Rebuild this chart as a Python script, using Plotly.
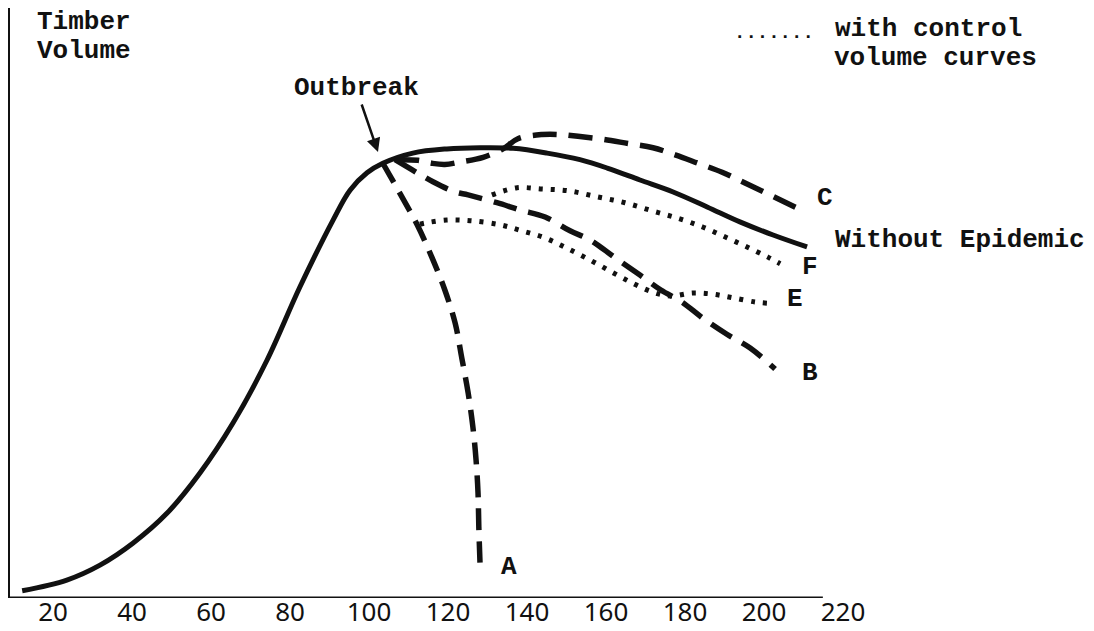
import plotly.graph_objects as go

# ---- data (age in years vs. relative timber volume) ----
base_x = [12.2, 23.5, 31.9, 40.3, 48.9, 57.2, 65.6, 74.2, 82.5, 90.9, 95.2, 99.5,
          103.5, 111.1, 119.7, 128.1, 136.5, 145.1, 153.4, 160.3, 168.6, 177.0,
          185.6, 193.9, 202.3, 210.9]
base_y = [1.2, 3.0, 5.5, 9.2, 14.2, 20.9, 29.3, 39.8, 52.0, 63.2, 68.2, 71.1,
          72.7, 74.4, 75.1, 75.3, 75.2, 74.4, 73.3, 71.9, 69.9, 67.9,
          65.4, 62.9, 60.7, 58.7]

a_x = [103.5, 107.8, 112.2, 115.9, 119.2, 121.8, 123.5, 125.1, 126.3, 127.1, 127.6, 127.8, 128.1]
a_y = [72.7, 67.7, 62.4, 57.0, 51.5, 46.0, 40.1, 34.3, 28.6, 23.1, 17.6, 11.9, 5.9]

b_x = [106.6, 112.2, 116.2, 121.8, 125.1, 132.4, 138.2, 144.6, 150.9, 155.9, 162.3,
       168.6, 173.9, 179.2, 184.5, 190.6, 196.5, 202.8]
b_y = [73.3, 71.1, 69.6, 67.9, 67.4, 66.1, 64.9, 63.7, 61.4, 59.9, 56.9,
       54.0, 51.5, 49.5, 46.8, 44.1, 41.8, 38.3]

c_x = [106.6, 112.4, 115.9, 119.2, 123.0, 128.9, 133.9, 137.7, 143.8, 148.4, 152.9,
       159.2, 165.6, 171.9, 177.5, 183.3, 189.4, 195.2, 201.5, 208.4]
c_y = [73.3, 73.2, 72.7, 72.5, 72.9, 73.7, 75.1, 76.8, 77.5, 77.5, 77.2,
       76.7, 76.0, 75.3, 74.1, 72.7, 71.2, 69.4, 67.4, 65.2]

e_x = [112.9, 114.2, 119.7, 125.6, 133.2, 138.7, 144.6, 150.1, 156.0, 161.5, 166.6,
       171.6, 176.2, 182.0, 187.1, 192.2, 197.7, 200.8]
e_y = [62.5, 62.7, 63.2, 63.1, 62.4, 61.4, 60.2, 58.5, 56.5, 54.5, 52.7,
       51.2, 50.5, 51.0, 50.8, 50.2, 49.5, 49.3]

f_x = [131.1, 137.5, 143.8, 150.4, 157.7, 164.8, 171.9, 178.7, 184.6, 190.1, 195.7, 201.0, 204.1]
f_y = [67.4, 68.6, 68.4, 68.1, 67.1, 66.1, 64.7, 63.4, 62.0, 60.4, 58.7, 57.0, 55.9]

tick_vals = [20, 40, 60, 80, 100, 120, 140, 160, 180, 200, 220]
tick_text = ["20", "40", "60", "80", "100", "120", "140", "160", "180", "200", "220"]

# ---- layout constants ----
# the page body adds an 8px offset, so the figure is sized to fit the window
OFF = 8
W, H = 1094 - OFF, 631 - OFF
PLOT_L, PLOT_R, PLOT_T, PLOT_B = 10, 867, OFF, 598   # screen pixels of the plot area
ML, MR, MT, MB = PLOT_L - OFF, 1094 - PLOT_R, PLOT_T - OFF, 631 - PLOT_B
PXU = 3.95            # px per x unit
X0 = 40 - (132 - PLOT_L) / PXU
X1 = X0 + (PLOT_R - PLOT_L) / PXU
PYU = 5.98            # px per y unit
Y0 = 0
Y1 = (PLOT_B - PLOT_T) / PYU
AXIS_END = 214.9

MONO = "Liberation Mono"
BLACK = "#111111"


def px(xs):
    return (xs - PLOT_L) / (PLOT_R - PLOT_L)


def py(ys):
    return (PLOT_B - ys) / (PLOT_B - PLOT_T)


fig = go.Figure()

line_kw = dict(mode="lines", line_shape="spline", hoverinfo="skip", showlegend=False)
fig.add_trace(go.Scatter(x=base_x, y=base_y, line=dict(color=BLACK, width=5), **line_kw))
fig.add_trace(go.Scatter(x=a_x, y=a_y, line=dict(color=BLACK, width=5.5, dash="22px,11px"), **line_kw))
fig.add_trace(go.Scatter(x=b_x, y=b_y, line=dict(color=BLACK, width=5.5, dash="24px,12px"), **line_kw))
fig.add_trace(go.Scatter(x=c_x, y=c_y, line=dict(color=BLACK, width=5.5, dash="24px,12px"), **line_kw))
fig.add_trace(go.Scatter(x=e_x, y=e_y, line=dict(color=BLACK, width=5, dash="4px,8px"), **line_kw))
fig.add_trace(go.Scatter(x=f_x, y=f_y, line=dict(color=BLACK, width=5, dash="4px,8px"), **line_kw))

# bottom axis line (stops short of the last tick label)
fig.add_shape(type="line", xref="x", yref="y", x0=X0, x1=AXIS_END, y0=0, y1=0,
              line=dict(color=BLACK, width=3))


def txt(s, xs, ys, size=26, **kw):
    fig.add_annotation(x=px(xs), y=py(ys), xref="paper", yref="paper", text=s, showarrow=False,
                       font=dict(family=MONO, size=size, color=BLACK, weight="bold"),
                       xanchor="center", yanchor="middle", **kw)


txt("Timber", 83.5, 22)
txt("Volume", 83.5, 51)
txt(".......", 774, 33, size=19)
txt("with control", 928, 29)
txt("volume curves", 935.5, 58)
txt("C", 825, 198)
txt("Without Epidemic", 960, 240)
txt("F", 810, 267)
txt("E", 795, 299)
txt("B", 810, 373)
txt("A", 509, 567)

fig.add_annotation(x=px(378), y=py(152), xref="paper", yref="paper",
                   text="Outbreak", showarrow=True, arrowhead=2, arrowsize=1.1,
                   arrowwidth=2.5, arrowcolor=BLACK, ax=-22, ay=-64,
                   font=dict(family=MONO, size=26, color=BLACK, weight="bold"))

fig.update_layout(
    width=W, height=H,
    margin=dict(l=ML, r=MR, t=MT, b=MB, autoexpand=False),
    paper_bgcolor="white", plot_bgcolor="white",
    xaxis=dict(range=[X0, X1], showgrid=False, zeroline=False, showline=False,
               tickmode="array", tickvals=tick_vals, ticktext=tick_text, ticks="",
               ticklabelstandoff=-4,
               tickfont=dict(family="Noto Sans", size=26, color=BLACK)),
    yaxis=dict(range=[Y0, Y1], showgrid=False, zeroline=False, showline=True,
               linecolor=BLACK, linewidth=3, showticklabels=False, ticks=""),
)

fig.write_html("out.html")
